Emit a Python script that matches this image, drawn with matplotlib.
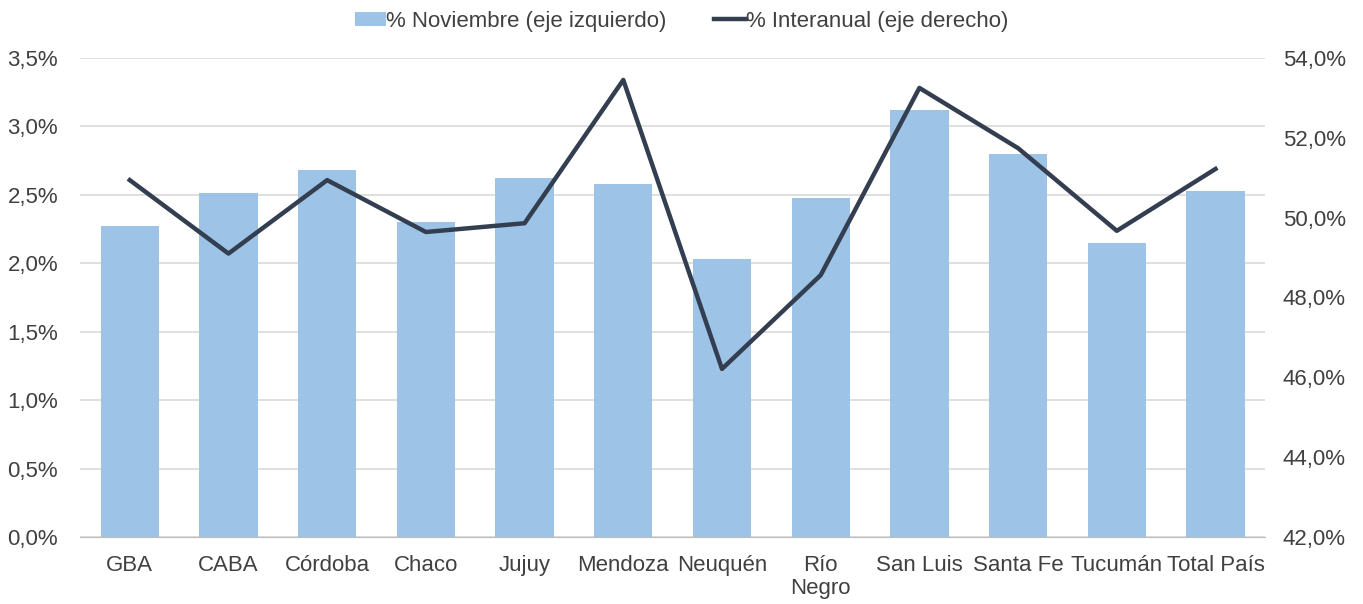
import numpy as np
import matplotlib.pyplot as plt
from matplotlib.ticker import FuncFormatter

plt.rcParams['font.family'] = ['Liberation Sans', 'DejaVu Sans']

# ── Data ──────────────────────────────────────────────────────────────────
regiones = ['GBA', 'CABA', 'Córdoba', 'Chaco', 'Jujuy', 'Mendoza', 'Neuquén',
            'Río\nNegro', 'San Luis', 'Santa Fe', 'Tucumán', 'Total País']
pct_noviembre = [2.27, 2.51, 2.68, 2.30, 2.62, 2.58, 2.03,
                 2.48, 3.12, 2.80, 2.15, 2.53]
pct_interanual = [50.94, 49.10, 50.94, 49.64, 49.86, 53.45, 46.21,
                  48.56, 53.25, 51.74, 49.67, 51.22]

bar_color  = '#9DC3E6'
line_color = '#333F50'
text_color = '#404040'

fig = plt.figure(figsize=(13.63, 6.04), dpi=100)
ax = fig.add_axes([0.059, 0.111, 0.869, 0.793])
ax2 = ax.twinx()

x = np.arange(len(regiones))
ax.bar(x, pct_noviembre, width=0.59, color=bar_color, zorder=2,
       label='% Noviembre (eje izquierdo)')
ax2.plot(x, pct_interanual, color=line_color, linewidth=3.2,
         label='% Interanual (eje derecho)')

# left axis
ax.set_xlim(-0.5, len(regiones) - 0.5)
ax.set_ylim(0, 3.5)
ax.set_yticks(np.arange(0, 3.51, 0.5))
ax.yaxis.set_major_formatter(FuncFormatter(lambda v, p: f'{v:.1f}%'.replace('.', ',')))
ax.grid(axis='y', color='#D9D9D9', linewidth=1.2, zorder=0)
ax.set_axisbelow(True)

# right axis
ax2.set_ylim(42, 54)
ax2.set_yticks(np.arange(42, 54.1, 2))
ax2.yaxis.set_major_formatter(FuncFormatter(lambda v, p: f'{v:.1f}%'.replace('.', ',')))

ax.set_xticks(x)
ax.set_xticklabels(regiones, linespacing=1.1)

for a in (ax, ax2):
    for s in ('top', 'left', 'right'):
        a.spines[s].set_visible(False)
    a.spines['bottom'].set_color('#BFBFBF')
    a.tick_params(length=0, labelsize=16, colors=text_color)
ax.tick_params(axis='y', pad=16)
ax2.tick_params(axis='y', pad=13)
ax.tick_params(axis='x', pad=13)

h1, l1 = ax.get_legend_handles_labels()
h2, l2 = ax2.get_legend_handles_labels()
fig.legend(h1 + h2, l1 + l2, loc='upper center', bbox_to_anchor=(0.5, 1.015),
           ncol=2, frameon=False, fontsize=16, handlelength=1.4,
           handleheight=0.6, handletextpad=0.0, columnspacing=2.15,
           labelcolor=text_color)

fig.savefig('out.png', dpi=100)
